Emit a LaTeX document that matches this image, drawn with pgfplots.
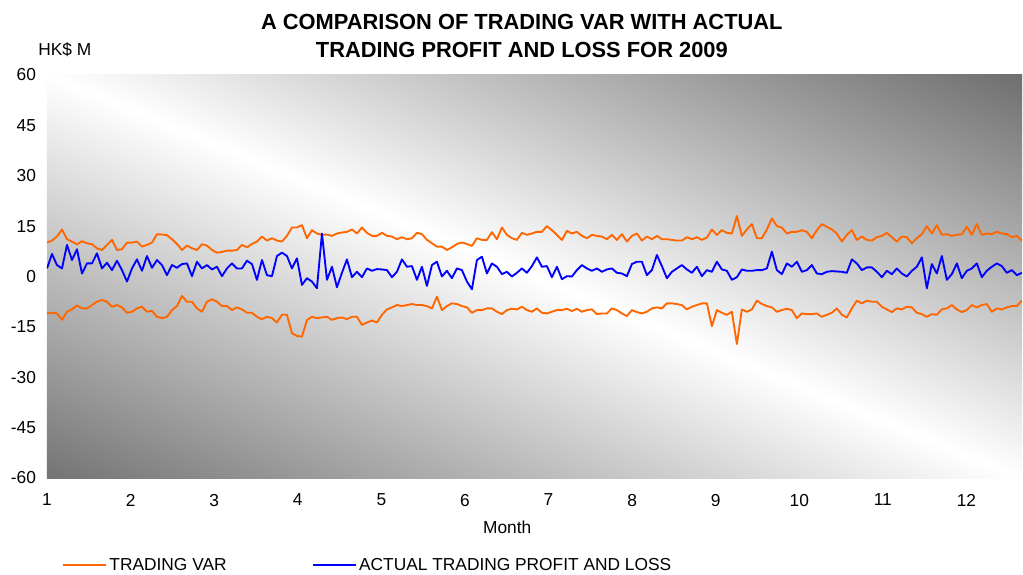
\documentclass[border=0pt]{standalone}
\usepackage{fontspec}
\setmainfont{Liberation Sans}
\usepackage{pgfplots}
\usepackage{pgfplotstable}
\pgfplotsset{compat=1.18}

\definecolor{varorange}{RGB}{255,102,0}
\definecolor{plblue}{RGB}{0,0,255}

% grey-white-grey band running along the plot diagonal
\pgfdeclareverticalshading{bgdiag}{100bp}{color(0bp)=(black!57); color(17bp)=(black!57);
    color(50bp)=(white); color(83bp)=(black!55); color(100bp)=(black!55)}

\pgfplotstableread{
up pl lo
10.1 2.4 -11.0
10.7 6.7 -10.8
11.9 3.4 -11.0
14.0 2.4 -12.9
11.1 9.4 -10.5
10.4 4.9 -9.8
9.6 8.1 -8.6
10.5 0.9 -9.5
9.9 3.9 -9.5
9.6 3.9 -8.5
8.4 6.9 -7.5
7.9 2.4 -7.0
9.4 4.1 -7.5
10.9 1.9 -9.0
7.9 4.7 -8.5
8.1 1.9 -9.2
10.1 -1.5 -10.8
10.1 2.4 -10.5
10.4 5.1 -9.5
8.9 1.7 -9.0
9.4 6.1 -10.5
10.1 2.6 -10.2
12.6 4.9 -12.0
12.5 3.4 -12.4
12.3 0.4 -12.0
11.1 3.4 -10.0
9.7 2.6 -8.8
7.9 3.7 -5.8
9.2 3.9 -7.5
8.4 0.1 -7.5
7.9 4.4 -9.5
9.6 2.4 -10.5
9.2 3.4 -7.5
7.9 2.1 -6.8
7.1 2.9 -7.5
7.3 0.1 -8.8
7.7 2.4 -8.8
7.7 3.9 -10.0
7.9 2.4 -9.2
9.4 2.4 -9.8
8.7 4.7 -10.8
9.7 3.7 -10.8
10.4 -1.0 -12.0
11.9 4.9 -12.7
10.7 0.4 -12.0
11.4 0.1 -12.4
10.7 6.1 -13.7
10.4 7.1 -11.4
12.1 6.1 -11.4
14.6 2.4 -16.9
14.6 5.4 -17.7
15.3 -2.5 -17.9
11.4 -0.5 -13.0
13.8 -1.5 -12.0
12.8 -3.5 -12.4
12.4 12.8 -12.2
12.5 -1.0 -12.0
12.1 2.9 -12.9
12.8 -3.2 -12.4
13.1 1.1 -12.2
13.3 5.1 -12.7
14.0 -0.2 -12.0
12.8 1.4 -12.0
14.6 -0.2 -14.4
13.0 2.4 -13.7
12.1 1.7 -13.1
12.1 2.2 -13.7
13.0 2.1 -11.4
12.1 1.9 -9.8
11.9 -0.2 -9.2
11.1 1.4 -8.5
11.7 5.1 -8.8
11.1 2.9 -8.5
11.4 3.1 -8.2
13.0 -1.0 -8.5
12.6 2.9 -8.5
10.9 -2.8 -8.8
9.9 3.4 -9.5
8.9 4.4 -6.0
8.9 0.0 -10.0
7.9 1.7 -8.8
8.7 -0.5 -8.0
9.7 2.4 -8.2
10.1 1.9 -8.8
9.7 -1.5 -9.2
9.1 -3.8 -10.8
11.4 4.9 -10.0
10.9 5.9 -10.0
10.9 0.9 -9.5
13.2 3.9 -9.5
11.1 2.9 -10.5
14.6 0.7 -11.2
12.4 1.4 -10.0
11.4 0.0 -9.6
10.9 1.1 -9.8
13.0 2.4 -9.0
12.4 1.1 -10.0
12.8 3.1 -10.5
13.3 5.7 -9.5
13.3 2.9 -10.8
15.0 3.1 -11.0
13.8 -0.2 -10.5
12.4 2.9 -10.0
10.9 -0.8 -10.0
13.6 0.1 -9.6
12.8 0.0 -10.3
13.3 1.9 -9.6
12.1 3.4 -10.5
11.4 2.4 -10.0
12.4 1.7 -9.8
12.1 2.4 -11.2
11.9 1.4 -11.0
11.1 2.1 -11.0
12.4 2.4 -9.5
10.9 1.1 -10.0
12.6 0.9 -11.0
10.4 0.1 -11.8
12.1 3.7 -10.0
12.8 4.4 -10.6
10.7 4.4 -11.0
11.9 0.4 -10.5
11.1 1.9 -9.5
12.1 6.4 -9.2
11.1 3.1 -9.5
11.1 -0.5 -8.0
10.9 1.4 -8.0
10.7 2.4 -8.2
10.7 3.4 -8.5
11.7 2.1 -9.8
11.1 1.1 -9.0
11.7 2.9 -8.5
10.9 0.1 -8.0
11.6 1.9 -8.0
14.0 1.4 -14.8
12.4 4.4 -10.0
13.8 2.1 -10.8
13.0 1.7 -11.4
12.8 -1.0 -10.5
18.0 -0.2 -20.1
12.1 2.1 -9.8
14.0 1.7 -10.5
15.6 1.7 -9.8
11.4 1.9 -7.2
11.4 1.9 -8.2
14.0 2.4 -8.8
17.3 7.4 -9.2
15.0 1.9 -10.5
14.6 0.7 -10.0
12.8 3.9 -9.6
13.3 2.9 -10.0
13.3 4.4 -12.4
13.8 1.4 -11.0
13.3 1.9 -11.2
11.4 3.4 -11.2
13.8 0.9 -11.0
15.6 0.7 -12.0
14.8 1.4 -11.4
14.0 1.6 -10.8
12.8 1.5 -9.5
10.4 1.4 -11.4
12.4 1.1 -12.2
13.8 5.1 -9.5
10.9 3.9 -7.2
11.9 1.9 -8.0
10.9 2.7 -7.2
10.7 2.7 -7.5
11.7 1.4 -7.5
12.1 -0.2 -9.0
13.0 1.7 -9.8
11.7 0.7 -10.6
10.4 2.4 -9.5
11.9 0.9 -9.8
11.7 0.0 -9.0
9.9 1.7 -9.2
11.4 2.9 -10.8
12.6 5.7 -11.2
15.0 -3.5 -12.0
12.8 3.7 -11.2
15.3 0.9 -11.4
12.4 6.1 -9.8
12.6 -1.0 -9.5
12.1 0.7 -8.5
12.4 3.9 -9.8
12.6 -0.5 -10.6
14.8 1.7 -10.0
12.4 2.4 -8.5
15.6 3.9 -9.2
12.4 -0.2 -8.5
12.8 1.7 -8.2
12.6 2.9 -10.5
13.3 3.9 -9.5
12.8 3.1 -9.8
12.6 1.1 -9.2
11.7 1.9 -8.8
12.1 0.4 -8.8
10.7 1.1 -7.2
}\vardata

\begin{document}
\begin{tikzpicture}
\begin{axis}[
    scale only axis,
    width=731.25pt,
    height=302.25pt,
    xmin=1, xmax=12.665,
    ymin=-60, ymax=60,
    xtick={1,...,12},
    ytick={-60,-45,...,60},
    axis line style={draw=none},
    major tick length=0pt,
    /pgf/number format/assume math mode=true,
    tick label style={font=\fontsize{13}{15}\selectfont},
    yticklabel style={xshift=-4.75pt},
    xticklabel style={yshift=-8.5pt},
    xlabel={Month},
    xlabel style={at={(ticklabel cs:0.472)}, anchor=north, font=\fontsize{13}{15}\selectfont, yshift=-3.75pt},
    title={A COMPARISON OF TRADING VAR WITH ACTUAL\\TRADING PROFIT AND LOSS FOR 2009},
    title style={at={(0.487,1)}, anchor=south, align=center, inner sep=0pt, yshift=6.75pt,
        font=\bfseries\fontsize{16.4}{21}\selectfont},
    axis background/.style={shading=bgdiag, shading angle=157.5},
    legend columns=2,
    legend style={at={(0,0)}, anchor=west, xshift=11.25pt, yshift=-65.25pt,
        draw=none, fill=none, inner sep=0pt,
        font=\fontsize{13}{15}\selectfont,
        /tikz/every even column/.append style={column sep=62pt}},
    legend image code/.code={\draw[#1] (0pt,0pt) -- (32pt,0pt);},
    every axis plot/.append style={line width=1.4pt, line join=round},
]
\addplot[varorange] table[x expr={1+\coordindex*0.059809}, y=up] {\vardata};
\addlegendentry{TRADING VAR}
\addplot[varorange, forget plot] table[x expr={1+\coordindex*0.059809}, y=lo] {\vardata};
\addplot[plblue] table[x expr={1+\coordindex*0.059809}, y=pl] {\vardata};
\addlegendentry{ACTUAL TRADING PROFIT AND LOSS}
\end{axis}
\node[anchor=west, inner sep=0pt, font=\fontsize{13}{15}\selectfont]
    at ([xshift=-6.75pt, yshift=18.75pt]current axis.north west) {HK\$ M};
\path ([xshift=-35.25pt, yshift=-72pt]current axis.south west)
    rectangle ([xshift=0.75pt, yshift=56.25pt]current axis.north east);
\end{tikzpicture}
\end{document}
